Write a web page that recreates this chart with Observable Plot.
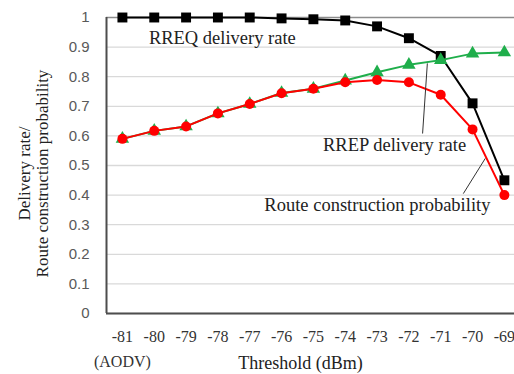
<!DOCTYPE html>
<html>
<head>
<meta charset="utf-8">
<script src="https://cdn.jsdelivr.net/npm/d3@7"></script>
<script src="https://cdn.jsdelivr.net/npm/@observablehq/plot@0.6"></script>
<style>
  html, body { margin: 0; padding: 0; background: #fff; }
  #chart svg { display: block; }
</style>
</head>
<body>
<div id="chart"></div>
<script>
// ---- data ----
const thresholds = [-81, -80, -79, -78, -77, -76, -75, -74, -73, -72, -71, -70, -69];
const rreqRate   = [1, 1, 1, 1, 1, 0.997, 0.994, 0.99, 0.97, 0.93, 0.87, 0.71, 0.45];
const rrepRate   = [0.59, 0.617, 0.632, 0.676, 0.708, 0.745, 0.759, 0.787, 0.815, 0.84, 0.856, 0.878, 0.882];
const routeProb  = [0.59, 0.617, 0.632, 0.676, 0.708, 0.744, 0.759, 0.781, 0.789, 0.781, 0.739, 0.622, 0.40];
const yTicks = [0, 0.1, 0.2, 0.3, 0.4, 0.5, 0.6, 0.7, 0.8, 0.9, 1];

// annotation labels (data coordinates)
const labelText = ["RREQ delivery rate", "RREP delivery rate", "Route construction probability"];
const labelX = [-77.86, -72.45, -72.99];
const labelY = [0.93, 0.568, 0.365];
// leader lines
const leaderX1 = [-71.57, -70.29];
const leaderY1 = [0.608, 0.405];
const leaderX2 = [-71.42, -69.6];
const leaderY2 = [0.845, 0.524];

// ---- build tables ----
const rows = (vals) => thresholds.map((t, i) => ({t, v: vals[i]}));
const rreq = rows(rreqRate), rrep = rows(rrepRate), route = rows(routeProb);
const labels = labelText.map((s, i) => ({s, x: labelX[i], y: labelY[i]}));
const leaders = leaderX1.map((x1, i) => ({x1, y1: leaderY1[i], x2: leaderX2[i], y2: leaderY2[i]}));

const xDomain = [-81.5, -68.5];
const serif = "'Liberation Serif', 'Times New Roman', serif";

const chart = Plot.plot({
  width: 514,
  height: 374,
  marginLeft: 106,
  marginRight: 0,
  marginTop: 17,
  marginBottom: 61,
  style: {background: "#fff", overflow: "visible"},
  x: {type: "linear", domain: xDomain, range: [106, 519.8]},
  y: {domain: [0, 1], ticks: yTicks},
  marks: [
    Plot.gridY(yTicks.filter(d => d < 1), {stroke: "#d9d9d9", strokeOpacity: 1, strokeWidth: 1.3}),
    Plot.ruleY([1], {stroke: "#8c8c8c", strokeWidth: 1.5}),
    Plot.ruleY([0], {stroke: "#4d4d4d", strokeWidth: 2}),
    Plot.ruleX([xDomain[0]], {stroke: "#4d4d4d", strokeWidth: 2}),
    Plot.axisY({
      ticks: yTicks, tickSize: 0, tickPadding: 17,
      tickFormat: d => d3.format("~g")(d),
      fontSize: 15, fontFamily: "'Liberation Sans', Arial, sans-serif",
      fill: "#595959", label: null
    }),
    Plot.axisX({
      ticks: thresholds, tickSize: 0, tickPadding: 10,
      tickFormat: d => d === -81 ? "-81\n(AODV)" : String(d),
      fontSize: 16, fontFamily: serif, fill: "#333", lineHeight: 1.6,
      label: null
    }),
    // series
    Plot.line(rreq, {x: "t", y: "v", stroke: "#000", strokeWidth: 2}),
    Plot.dot(rreq, {x: "t", y: "v", symbol: "square", r: 5.6, fill: "#000", stroke: "none"}),
    Plot.line(rrep, {x: "t", y: "v", stroke: "#1fae4b", strokeWidth: 2}),
    Plot.dot(rrep, {x: "t", y: "v", symbol: "triangle", r: 5, fill: "#1fae4b", stroke: "none"}),
    Plot.line(route, {x: "t", y: "v", stroke: "#ff0000", strokeWidth: 2}),
    Plot.dot(route, {x: "t", y: "v", symbol: "circle", r: 5, fill: "#ff0000", stroke: "none"}),
    // leaders & labels
    Plot.link(leaders, {x1: "x1", y1: "y1", x2: "x2", y2: "y2", stroke: "#333", strokeWidth: 1}),
    Plot.text(labels, {x: "x", y: "y", text: "s", fontSize: 18.5, fontFamily: serif, fill: "#222"}),
    // axis titles
    Plot.text(["Threshold (dBm)"], {frameAnchor: "bottom", lineAnchor: "middle", dx: -10, dy: 50, fontSize: 18, fontFamily: serif, fill: "#222"}),
    Plot.text(["Delivery rate/\nRoute construction probability"], {
      frameAnchor: "left", textAnchor: "middle", lineAnchor: "middle",
      dx: -73, dy: 8, rotate: -90, lineHeight: 1.05,
      fontSize: 17, fontFamily: serif, fill: "#222"
    })
  ]
});
document.getElementById("chart").append(chart);
</script>
</body>
</html>
